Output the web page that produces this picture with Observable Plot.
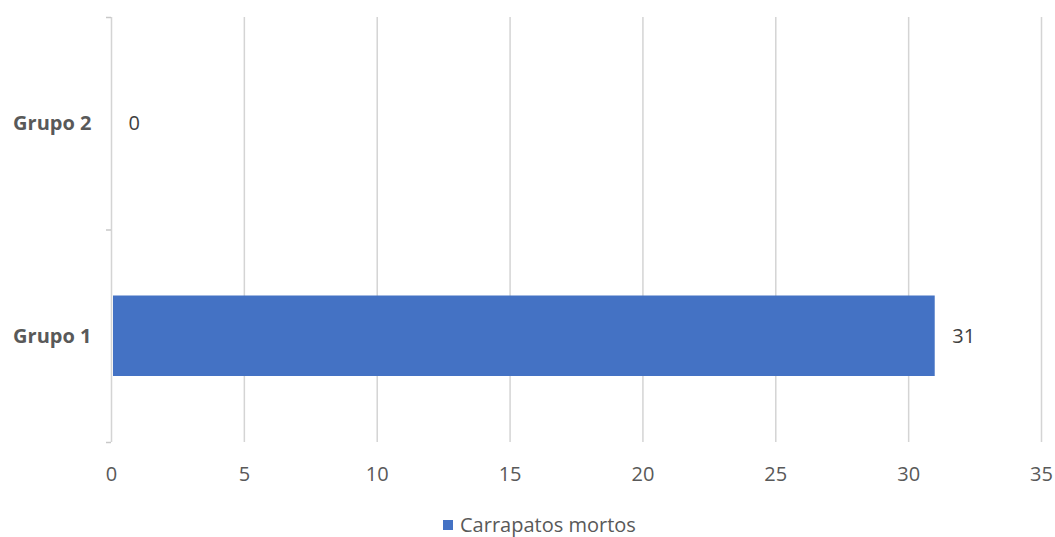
<!DOCTYPE html>
<html>
<head>
<meta charset="utf-8">
<script src="https://cdn.jsdelivr.net/npm/d3@7"></script>
<script src="https://cdn.jsdelivr.net/npm/@observablehq/plot@0.6"></script>
<style>
  body { margin: 0; background: #fff; font-family: "Open Sans", sans-serif; }
  #wrap { position: relative; width: 1055px; height: 537px; }
  #legend { position: absolute; top: 513px; left: 443px; display: flex; align-items: center;
            font-size: 20px; line-height: 24px; color: #595959; }
  #legend .sw { width: 10px; height: 10px; background: #4472c4; margin-right: 7px; }
</style>
</head>
<body>
<div id="wrap"></div>
<script>
// Carrapatos mortos por grupo
const categories = ["Grupo 1", "Grupo 2"];
const values = [31, 0];
const seriesName = "Carrapatos mortos";
const xTicks = [0, 5, 10, 15, 20, 25, 30, 35];

const rows = categories.map((c, i) => ({ grupo: c, idx: i, value: values[i] }));
const color = "#4472c4";

const chart = Plot.plot({
  width: 1055,
  height: 500,
  marginLeft: 111,
  marginRight: 14,
  marginTop: 17,
  marginBottom: 58,
  style: { fontFamily: "Open Sans, sans-serif", color: "#595959", background: "#fff", overflow: "visible" },
  x: { domain: [0, 35] },
  y: { domain: [0, categories.length] },
  marks: [
    Plot.ruleX(xTicks, { stroke: "#d4d4d4", strokeWidth: 1.5 }),
    Plot.rectX(rows, {
      x1: 0, x2: "value",
      y1: "idx", y2: d => d.idx + 1,
      insetTop: 66, insetBottom: 66, insetLeft: 2,
      fill: color
    }),
    Plot.text(rows, {
      x: "value", y: d => d.idx + 0.5,
      text: d => String(d.value),
      dx: 17, textAnchor: "start",
      fontSize: 20, fill: "#404040"
    }),
    Plot.axisX({ ticks: xTicks, tickSize: 0, tickPadding: 24, fontSize: 20, label: null }),
    // category boundary ticks on the vertical axis
    Plot.axisY({ ticks: d3.range(categories.length + 1), tickFormat: () => "", tickSize: 5,
                 stroke: "#c8c8c8", strokeWidth: 1.5, label: null }),
    Plot.axisY({ ticks: categories.map((c, i) => i + 0.5), tickFormat: d => categories[Math.floor(d)],
                 tickSize: 0, tickPadding: 20, fontSize: 20, fontWeight: "bold", label: null })
  ]
});

const wrap = document.getElementById("wrap");
wrap.appendChild(chart);
const legend = document.createElement("div");
legend.id = "legend";
legend.innerHTML = `<span class="sw"></span><span></span>`;
legend.lastChild.textContent = seriesName;
wrap.appendChild(legend);
</script>
</body>
</html>
